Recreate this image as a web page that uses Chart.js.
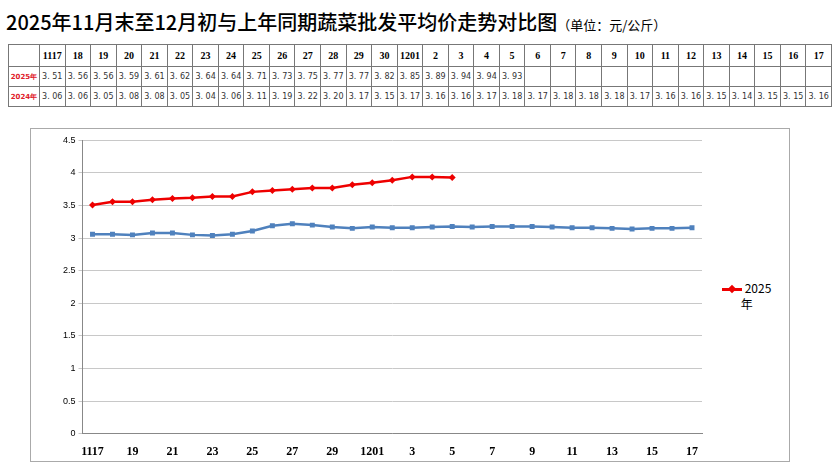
<!DOCTYPE html>
<html><head><meta charset="utf-8">
<script src="https://cdn.jsdelivr.net/npm/chart.js@4/dist/chart.umd.min.js"></script>
<style>
body{margin:0;background:#fff;font-family:"Noto Sans CJK SC",sans-serif;width:840px;height:467px;position:relative;overflow:hidden}
#title{position:absolute;left:6px;top:7px;font-size:20px;color:#000;white-space:nowrap;font-weight:500}
#title span{font-size:13px;font-weight:400}
table{position:absolute;left:8px;top:44px;width:824px;border-collapse:collapse;table-layout:fixed;font-family:"DejaVu Sans",sans-serif}
td{border:1px solid #777;font-size:8px;text-align:center;padding:0;height:19px;color:#333}
tr:first-child td{font-weight:bold;font-family:"Liberation Serif",serif;font-size:10px;color:#000;height:21px}
td.h{color:#e0202a;font-weight:bold;font-size:7px}
#frame{position:absolute;left:30px;top:128px;width:760px;height:334px;border:1px solid #aaa;box-sizing:border-box}
#wrap{position:absolute;left:30px;top:132px;width:680px;height:330px}
#leg{position:absolute;left:722px;top:280px;font-family:"Noto Sans CJK SC";font-size:12px;line-height:16px;text-align:center}
</style></head><body>
<div id="title">2025年11月末至12月初与上年同期蔬菜批发平均价走势对比图<span>（单位：元/公斤）</span></div>
<table id="tbl"></table>
<div id="frame"></div>
<div id="wrap"><canvas id="c"></canvas></div>
<div id="leg"><span style="display:inline-block;vertical-align:middle;width:20px;height:3px;background:#e00;position:relative"><span style="position:absolute;left:7px;top:-2.5px;width:6px;height:6px;background:#e00;transform:rotate(45deg)"></span></span> 2025<br>年</div>
<script>
const categories=["1117","18","19","20","21","22","23","24","25","26","27","28","29","30","1201","2","3","4","5","6","7","8","9","10","11","12","13","14","15","16","17"];
const values2025=[3.51,3.56,3.56,3.59,3.61,3.62,3.64,3.64,3.71,3.73,3.75,3.77,3.77,3.82,3.85,3.89,3.94,3.94,3.93];
const values2024=[3.06,3.06,3.05,3.08,3.08,3.05,3.04,3.06,3.11,3.19,3.22,3.20,3.17,3.15,3.17,3.16,3.16,3.17,3.18,3.17,3.18,3.18,3.18,3.17,3.16,3.16,3.15,3.14,3.15,3.15,3.16];
const yTicks=[0,0.5,1,1.5,2,2.5,3,3.5,4,4.5];

let h='<tr><td></td>'+categories.map(c=>'<td>'+c+'</td>').join('')+'</tr>';
h+='<tr><td class="h">2025年</td>'+categories.map((c,i)=>'<td>'+(values2025[i]!==undefined?values2025[i].toFixed(2).replace('.','. '):'')+'</td>').join('')+'</tr>';
h+='<tr><td class="h">2024年</td>'+values2024.map(v=>'<td>'+v.toFixed(2).replace('.','. ')+'</td>').join('')+'</tr>';
const t=document.getElementById('tbl');t.innerHTML=h;
t.querySelector('td').style.width='30px';

new Chart(document.getElementById('c'),{type:'line',
data:{labels:categories,datasets:[
{label:'2025年',data:values2025,borderColor:'#e00',backgroundColor:'#e00',borderWidth:2.5,pointStyle:'rectRot',pointRadius:3.5,pointBorderWidth:0},
{label:'2024年',data:values2024,borderColor:'#4f81bd',backgroundColor:'#4f81bd',borderWidth:2.5,pointStyle:'rect',pointRadius:3.5,pointBorderWidth:0}]},
options:{responsive:true,maintainAspectRatio:false,animation:false,
layout:{padding:{left:30,right:8,top:6,bottom:0}},
plugins:{legend:{display:false},tooltip:{enabled:false}},
scales:{
y:{min:0,max:4.5,afterBuildTicks:a=>{a.ticks=yTicks.map(v=>({value:v}));},
ticks:{font:{size:9,family:'Liberation Sans'},color:'#000',callback:v=>String(v)},grid:{color:'#c8c8c8',drawTicks:true,tickLength:4},border:{color:'#888'}},
x:{offset:true,grid:{display:false},border:{color:'#888'},
ticks:{autoSkip:false,maxRotation:0,font:{size:12,family:'Liberation Serif',weight:'bold'},color:'#000',callback:(v,i)=>i%2===0?categories[i]:''}}}}});
</script></body></html>
